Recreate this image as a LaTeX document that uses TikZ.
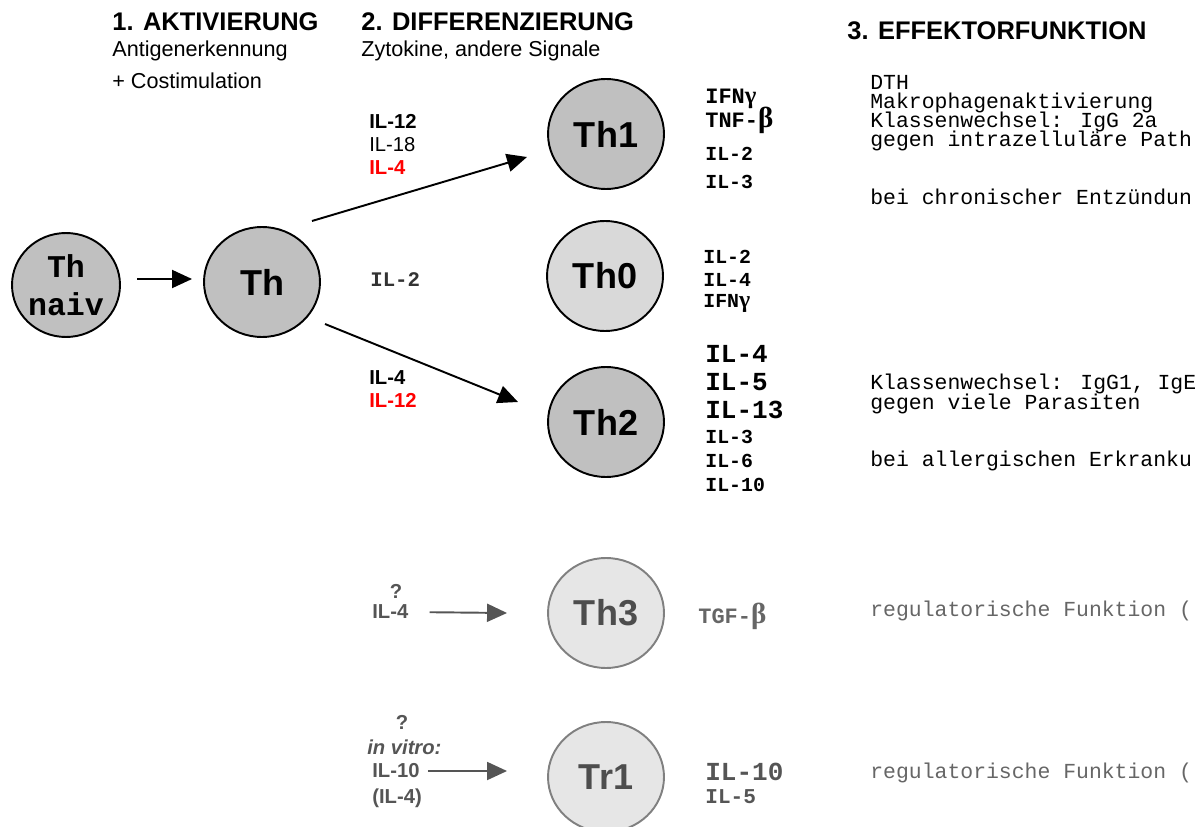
\documentclass[tikz,border=0pt]{standalone}
\usepackage{fontspec}
\setmainfont{Liberation Sans}
\newfontfamily\cour{Liberation Mono}
\newfontfamily\grk{Liberation Serif}
\usetikzlibrary{shapes.geometric,arrows.meta,calc}
\definecolor{cellgray}{HTML}{C0C0C0}
\definecolor{zerogray}{HTML}{D9D9D9}
\definecolor{palegray}{HTML}{E6E6E6}
\definecolor{rimgray}{HTML}{808080}
\definecolor{palebody}{HTML}{4D4D4D}
\definecolor{reggray}{HTML}{555555}
\definecolor{effgray}{HTML}{666666}
\definecolor{midgray}{HTML}{333333}
\newcommand{\biggreek}[1]{{\grk\fontsize{16.5}{16}\selectfont #1}}
\tikzset{
  cell/.style={ellipse, draw, line width=1.1pt, fill=cellgray, minimum width=2.32cm,
    minimum height=2.2cm, inner sep=0pt, font=\fontsize{20.5}{24}\selectfont\bfseries},
  palecell/.style={cell, fill=palegray, draw=rimgray, text=palebody},
  arr/.style={-{Triangle[length=0.4cm,width=0.36cm]}, line width=1.1pt},
  grayarr/.style={arr, draw=reggray, fill=reggray},
  head/.style={anchor=base west, inner sep=0pt, font=\fontsize{14.5}{17}\selectfont\bfseries},
  sub/.style={anchor=base west, inner sep=0pt, font=\fontsize{12.3}{15}\selectfont},
  sig/.style={anchor=base west, inner sep=0pt, font=\fontsize{11.5}{13}\selectfont\bfseries},
  cyto/.style={anchor=base west, inner sep=0pt, font=\cour\fontsize{11.3}{13}\selectfont\bfseries},
  bigcyto/.style={cyto, font=\cour\fontsize{12.5}{15}\selectfont\bfseries},
  hugecyto/.style={cyto, font=\cour\fontsize{14.8}{17}\selectfont\bfseries},
  eff/.style={anchor=base west, inner sep=0pt, font=\cour\fontsize{12.2}{14}\selectfont},
}
\begin{document}
\begin{tikzpicture}[x=0.02cm, y=-0.02cm]
\useasboundingbox (0,0) rectangle (1199,827);
\clip (0,0) rectangle (1199,827);
% headings
\node[head] (h1) at (112,31) {1. AKTIVIERUNG};
\node[sub] (h1a) at (112,57) {Antigenerkennung};
\node[sub] (h1b) at (112,89) {+ Costimulation};
\node[head] (h2) at (361,31) {2. DIFFERENZIERUNG};
\node[sub] (h2a) at (361,57) {Zytokine, andere Signale};
\node[head] (h3) at (847,40) {3. EFFEKTORFUNKTION};
% cells
\node[cell, minimum width=2.16cm, minimum height=2.08cm, align=center,
  font=\cour\fontsize{18}{21.6}\selectfont\bfseries] (thn) at (66,285) {Th\\naiv};
\node[cell] (th) at (262,282) {Th};
\node[cell] (th1) at (606,134) {Th1};
\node[cell, fill=zerogray] (th0) at (605,276) {Th0};
\node[cell] (th2) at (606,422) {Th2};
\node[palecell] (th3) at (606,613) {Th3};
\node[palecell] (tr1) at (606,777) {Tr1};
% signals
\node[sig] (s1a) at (369,129) {IL-12};
\node[sig, font=\fontsize{11.5}{13}\selectfont] (s1b) at (369,152) {IL-18};
\node[sig, text=red] (s1c) at (369,175) {IL-4};
\node[cyto, text=midgray, font=\cour\fontsize{11.8}{14}\selectfont\bfseries] (s0) at (370,287) {IL-2};
\node[sig] (s2a) at (369,384) {IL-4};
\node[sig, text=red] (s2b) at (369,407) {IL-12};
\node[sig, text=reggray, anchor=base] (s3a) at (396,598) {?};
\node[sig, text=reggray, anchor=west] (s3b) at (372,612) {IL-4};
\node[sig, text=reggray, anchor=base] (s4a) at (402,729) {?};
\node[sig, text=reggray, font=\fontsize{11.5}{13}\selectfont\bfseries\itshape] (s4b) at (367,754) {in vitro:};
\node[sig, text=reggray, anchor=west] (s4c) at (372,771) {IL-10};
\node[sig, text=reggray] (s4d) at (372,803) {(IL-4)};
% arrows
\draw[arr] ($(thn)+(71,-6)$) -- ($(th)+(-70,-3)$);
\draw[arr] ($(th)+(50,-61)$) -- ($(th1)+(-79,23)$);
\draw[arr] ($(th)+(63,42)$) -- ($(th2)+(-88,-20)$);
\draw[grayarr, shorten <=0.42cm] (s3b.east) -- ($(th3.west)+(-40,0)$);
\draw[grayarr, shorten <=0.16cm] (s4c.east) -- ($(tr1.west)+(-40,-6)$);
% cytokines
\node[bigcyto] (c1a) at (705,104) {IFN{\grk\fontsize{14}{14}\selectfont γ}};
\node[bigcyto] (c1b) at (705,128) {TNF-\biggreek{β}};
\node[cyto] (c1c) at (705,161) {IL-2};
\node[cyto] (c1d) at (705,189) {IL-3};
\node[cyto] (c0a) at (703,264) {IL-2};
\node[cyto] (c0b) at (703,287) {IL-4};
\node[cyto] (c0c) at (703,308) {IFN{\grk\fontsize{13.5}{13}\selectfont γ}};
\node[hugecyto] (c2a) at (705,362) {IL-4};
\node[hugecyto] (c2b) at (705,390) {IL-5};
\node[hugecyto] (c2c) at (705,418) {IL-13};
\node[cyto] (c2d) at (705,443) {IL-3};
\node[cyto] (c2e) at (705,467) {IL-6};
\node[cyto] (c2f) at (705,491) {IL-10};
\node[bigcyto, text=effgray] (c3a) at (698,623) {TGF-\biggreek{β}};
\node[hugecyto, text=reggray] (c4a) at (705,780) {IL-10};
\node[cyto, text=reggray, font=\cour\fontsize{12}{14}\selectfont\bfseries] (c4b) at (705,803) {IL-5};
% effector functions
\node[eff] (e1a) at (870,90) {DTH};
\node[eff] (e1b) at (870,109) {Makrophagenaktivierung};
\node[eff] (e1c) at (870,128) {Klassenwechsel: IgG 2a};
\node[eff] (e1d) at (870,147) {gegen intrazelluläre Path};
\node[eff] (e1e) at (870,205) {bei chronischer Entzündun};
\node[eff] (e2a) at (870,389) {Klassenwechsel: IgG1, IgE};
\node[eff] (e2b) at (870,409) {gegen viele Parasiten};
\node[eff] (e2c) at (870,466) {bei allergischen Erkranku};
\node[eff, text=effgray] (e3a) at (870,616) {regulatorische Funktion (};
\node[eff, text=effgray] (e4a) at (870,778) {regulatorische Funktion (};
\end{tikzpicture}
\end{document}
